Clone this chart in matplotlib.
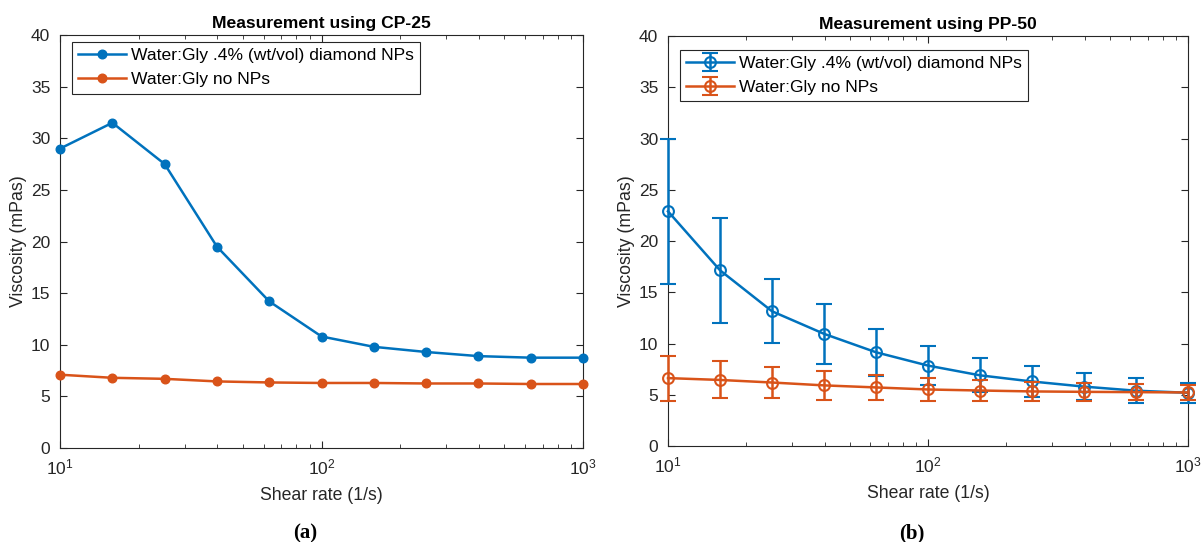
import numpy as np
import matplotlib.pyplot as plt
from matplotlib.ticker import LogLocator, NullFormatter

plt.rcParams['font.family'] = ['Liberation Sans', 'DejaVu Sans']

# shear rates (1/s), 5 points per decade
shear = [10, 15.85, 25.12, 39.81, 63.10, 100, 158.5, 251.2, 398.1, 631.0, 1000]

# CP-25
cp_np = [29.0, 31.5, 27.5, 19.5, 14.2, 10.8, 9.8, 9.3, 8.9, 8.75, 8.75]
cp_nonp = [7.1, 6.8, 6.7, 6.45, 6.35, 6.3, 6.3, 6.25, 6.25, 6.2, 6.2]

# PP-50 (mean and error)
pp_np = [22.9, 17.15, 13.15, 10.95, 9.15, 7.85, 6.9, 6.3, 5.8, 5.4, 5.2]
pp_np_err = [7.1, 5.1, 3.1, 2.9, 2.3, 1.93, 1.67, 1.5, 1.35, 1.2, 1.0]
pp_nonp = [6.63, 6.45, 6.2, 5.92, 5.72, 5.52, 5.42, 5.33, 5.29, 5.26, 5.23]
pp_nonp_err = [2.2, 1.8, 1.55, 1.42, 1.25, 1.15, 1.0, 0.9, 0.85, 0.8, 0.7]

lbl_np = 'Water:Gly .4% (wt/vol) diamond NPs'
lbl_nonp = 'Water:Gly no NPs'

blue = '#0072BD'
orange = '#D95319'
axcol = '#262626'

fig = plt.figure(figsize=(12.01, 5.42), dpi=100)
ax1 = fig.add_axes([0.050, 0.1734, 0.4355, 0.762])
ax2 = fig.add_axes([0.5562, 0.177, 0.433, 0.7565])

ax1.plot(shear, cp_np, '-o', color=blue, lw=1.8, ms=6.2, label=lbl_np,
         clip_on=False, zorder=3)
ax1.plot(shear, cp_nonp, '-o', color=orange, lw=1.8, ms=6.2, label=lbl_nonp,
         clip_on=False, zorder=3)

for vals, err, col, lbl in [(pp_np, pp_np_err, blue, lbl_np),
                            (pp_nonp, pp_nonp_err, orange, lbl_nonp)]:
    eb = ax2.errorbar(shear, vals, yerr=err, fmt='-o', color=col, lw=1.8, ms=7.8,
                      mfc='none', mew=1.5, capsize=5.5, capthick=1.8, elinewidth=1.8,
                      label=lbl, zorder=3)
    for art in eb.get_children():
        art.set_clip_on(False)
        art.set_zorder(3)

titles = ['Measurement using CP-25', 'Measurement using PP-50']
captions = ['(a)', '(b)']
cap_x = [0.2544, 0.7594]
leg_anchor = [(0.023, 0.983), (0.023, 0.966)]
for ax, t, c, cx, la in zip([ax1, ax2], titles, captions, cap_x, leg_anchor):
    ax.set_xscale('log')
    ax.set_xlim(10, 1000)
    ax.set_ylim(0, 40)
    ax.set_yticks(range(0, 41, 5))
    ax.xaxis.set_minor_locator(LogLocator(base=10, subs=np.arange(2, 10)))
    ax.xaxis.set_minor_formatter(NullFormatter())
    ax.tick_params(which='both', direction='in', top=True, right=True,
                   colors=axcol, labelsize=12.5, labelcolor=axcol)
    ax.tick_params(which='major', length=5, pad=7)
    ax.tick_params(which='minor', length=3)
    for s in ax.spines.values():
        s.set_color(axcol)
        s.set_linewidth(0.8)
    ax.set_title(t, fontsize=12.6, fontweight='bold', color='black', pad=5)
    ax.set_xlabel('Shear rate (1/s)', fontsize=12.7, color=axcol, labelpad=7)
    ax.set_ylabel('Viscosity (mPas)', fontsize=12.8, color=axcol, labelpad=2.5)
    leg = ax.legend(loc='upper left', bbox_to_anchor=la, borderaxespad=0,
                    fontsize=12.6, frameon=True, fancybox=False,
                    handlelength=2.75, labelspacing=0.5,
                    borderpad=0.35, handletextpad=0.25)
    leg.set_zorder(5)
    leg.get_frame().set_edgecolor(axcol)
    leg.get_frame().set_linewidth(0.8)
    leg.get_frame().set_alpha(1)
    fig.text(cx, 0.0166, c, ha='center', va='center',
             fontsize=15, fontweight='bold', family=['Liberation Serif', 'DejaVu Serif'])

fig.savefig('out.png', dpi=100)
